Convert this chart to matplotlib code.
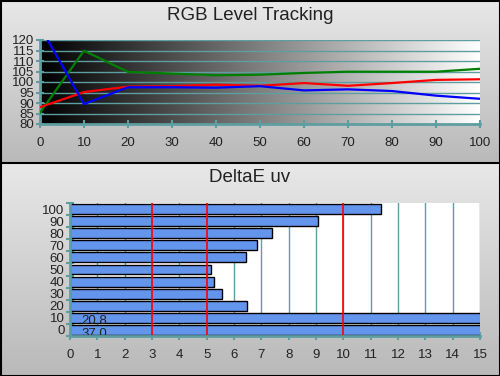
import numpy as np
import matplotlib
matplotlib.use("Agg")
from matplotlib import pyplot as plt

plt.rcParams['font.family'] = ['Liberation Sans', 'DejaVu Sans']

# ---------------------------------------------------------------------------
# Data
# ---------------------------------------------------------------------------
levels = [0, 10, 20, 30, 40, 50, 60, 70, 80, 90, 100]
red_vals = [88.0, 95.2, 97.8, 98.0, 98.7, 98.2, 99.5, 98.2, 99.5, 101.0, 101.3]
green_vals = [85.4, 114.9, 104.8, 104.0, 103.2, 103.5, 104.3, 104.9, 104.9, 104.9, 106.3]
blue_vals = [126.5, 89.5, 97.5, 97.5, 97.3, 98.0, 96.0, 96.5, 95.7, 93.5, 92.0]

de_cats = ['0', '10', '20', '30', '40', '50', '60', '70', '80', '90', '100']
de_vals = [37.0, 20.8, 6.49, 5.57, 5.28, 5.17, 6.43, 6.85, 7.40, 9.09, 11.39]
limit_lines = [3, 5, 10]

TEAL = '#5f9ea0'
W, H = 500, 376


def frac(x0, y0, x1, y1):
    # pixel box (top-left origin) -> figure fraction rect
    return [x0 / W, 1 - y1 / H, (x1 - x0) / W, (y1 - y0) / H]


fig = plt.figure(figsize=(5, 3.76), dpi=100)

# panel backgrounds (vertical grey gradients)
bg = fig.add_axes([0, 0, 1, 1], zorder=-10)
grad = np.linspace(0, 1, 256)[:, None]
cmap = matplotlib.colors.LinearSegmentedColormap.from_list('g', ['#e8e8e8', '#b9b9b9'])
bg.imshow(grad, cmap=cmap, aspect='auto', extent=[0, W, 163, 0])
bg.imshow(grad, cmap=cmap, aspect='auto', extent=[0, W, H, 163])
bg.set_xlim(0, W)
bg.set_ylim(H, 0)
bg.plot([0, W], [163, 163], color='black', lw=1.5)
bg.add_patch(plt.Rectangle((0.5, 0.5), W - 1, H - 1, fill=False, ec='black', lw=1.5))
bg.axis('off')

fig.text(250 / W, 1 - 15 / H, 'RGB Level Tracking', ha='center', va='center', fontsize=13.5,
         color='#222222')
fig.text(250 / W, 1 - 178 / H, 'DeltaE uv', ha='center', va='center', fontsize=13.5,
         color='#222222')

# ---------------------------------------------------------------------------
# RGB Level Tracking
# ---------------------------------------------------------------------------
ax1 = fig.add_axes(frac(40, 40, 480, 124))
hgrad = np.linspace(0, 1, 256)[None, :]
ax1.imshow(hgrad, cmap='gray', aspect='auto', extent=[0, 100, 80, 120], zorder=0)
for y in range(85, 121, 5):
    ax1.axhline(y, color=TEAL, lw=1, zorder=1)
ax1.plot(levels, green_vals, color='#008000', lw=1.6, zorder=3)
ax1.plot(levels, red_vals, color='red', lw=1.6, zorder=3)
ax1.plot(levels, blue_vals, color='blue', lw=1.6, zorder=4)
ax1.set_xlim(0, 100)
ax1.set_ylim(80, 120)
ax1.set_xticks(levels)
ax1.set_yticks(range(80, 121, 5))
ax1.tick_params(direction='inout', length=6, width=1.5, color=TEAL, labelsize=9.5, pad=6,
                labelcolor='#222222')
ax1.tick_params(axis='y', pad=1)
for side in ['top', 'right']:
    ax1.spines[side].set_visible(False)
for side in ['left', 'bottom']:
    ax1.spines[side].set_color(TEAL)
    ax1.spines[side].set_linewidth(2)

# ---------------------------------------------------------------------------
# DeltaE uv
# ---------------------------------------------------------------------------
ax2 = fig.add_axes(frac(70, 203, 480, 336))
ax2.set_facecolor('white')
ypos = np.arange(len(de_cats))
for x in range(1, 16):
    ax2.axvline(x, color=TEAL, lw=1, zorder=0)
ax2.barh(ypos, de_vals, height=0.82, color='#6495ed', edgecolor='black', lw=1, zorder=2)
for x in limit_lines:
    ax2.axvline(x, color='red', lw=1.2, zorder=3)
# value labels for the clipped bars
for i, dy in zip(range(2), [-0.34, -0.22]):
    ax2.text(0.42, ypos[i] + dy, f'{de_vals[i]:.1f}', va='center', ha='left',
             fontsize=9.5, color='#222222', zorder=4)
ax2.set_xlim(0, 15)
ax2.set_ylim(-0.5, len(de_cats) - 0.5)
ax2.set_xticks(range(0, 16))
ax2.set_yticks(ypos)
ax2.set_yticklabels(de_cats)
ax2.set_yticks(np.arange(-0.5, len(de_cats)), minor=True)
ax2.tick_params(axis='y', which='major', length=0, labelsize=9.5, pad=4, labelcolor='#222222')
ax2.tick_params(axis='y', which='minor', direction='inout', length=6, width=1.5, color=TEAL)
ax2.tick_params(axis='x', direction='inout', length=6, width=1.5, color=TEAL, labelsize=9.5,
                pad=6, labelcolor='#222222')
for side in ['top', 'right']:
    ax2.spines[side].set_visible(False)
for side in ['left', 'bottom']:
    ax2.spines[side].set_color(TEAL)
    ax2.spines[side].set_linewidth(2)
    ax2.spines[side].set_zorder(5)

fig.savefig('out.png', dpi=100)
